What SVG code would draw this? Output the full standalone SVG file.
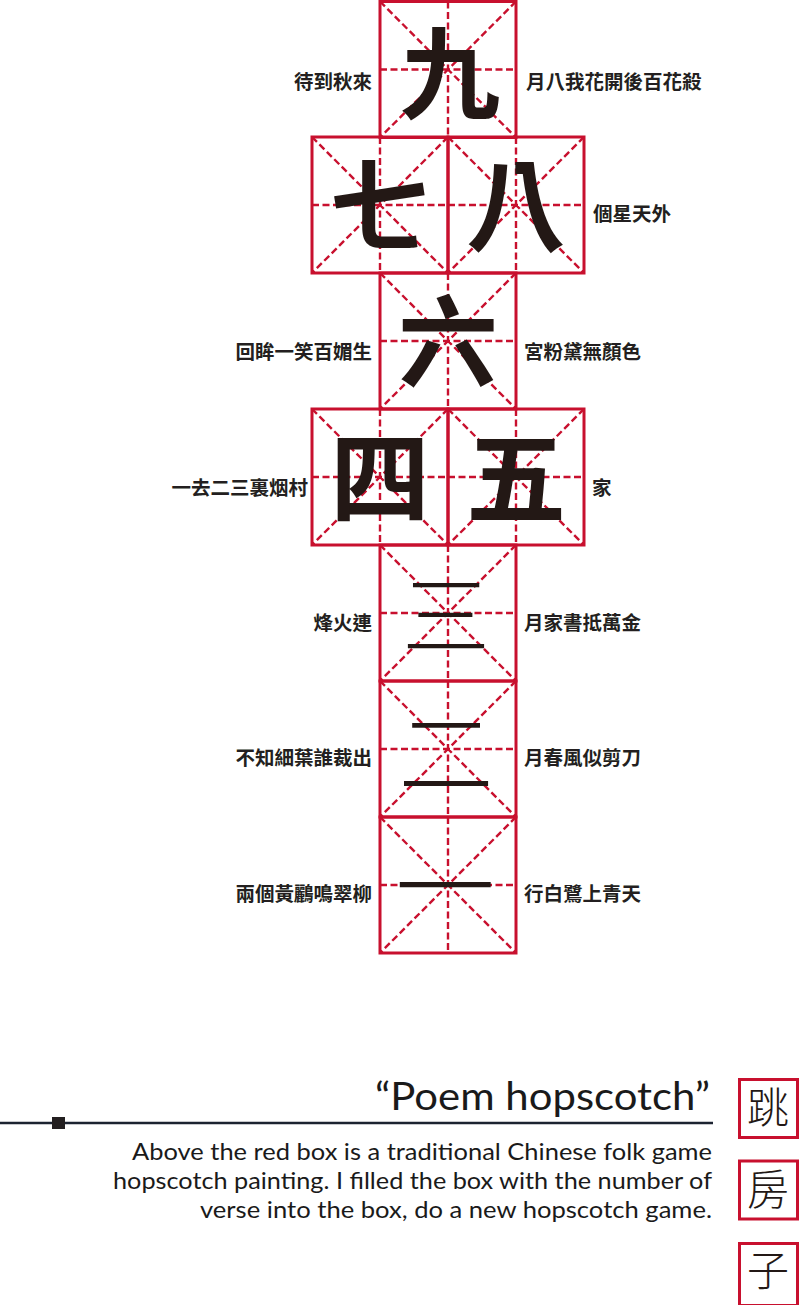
<svg xmlns="http://www.w3.org/2000/svg" xmlns:xlink="http://www.w3.org/1999/xlink" width="800" height="1305" viewBox="0 0 800 1305">
<style>
.dash{fill:none;stroke:#c8102e;stroke-width:2.4;stroke-dasharray:7 3.5}
.solid{fill:none;stroke:#c8102e;stroke-width:3}
.big{font-family:"Noto Sans CJK TC","Noto Sans CJK SC",sans-serif;font-weight:700;font-size:100px;fill:#231815;text-anchor:middle}
.thin{font-family:"Noto Sans CJK TC","Noto Sans CJK SC",sans-serif;font-weight:300;fill:#231815;text-anchor:middle}
.lab{font-family:"Noto Sans CJK TC","Noto Sans CJK SC",sans-serif;font-weight:700;font-size:19.5px;fill:#231f20}
.l{text-anchor:end}
.title{font-family:Lato,"Open Sans",sans-serif;font-weight:400;fill:#1a1a1a;text-anchor:end}
.tag{fill:none;stroke:#c8102e;stroke-width:3}
.kai{font-family:"Noto Sans CJK TC","Noto Sans CJK SC",sans-serif;font-weight:300;font-size:42px;fill:#231815;text-anchor:middle}
</style>
<defs>
<g id="cell">
<path class="dash" d="M0,0 L136,136 M136,0 L0,136 M68,0 L68,136 M0,68 L136,68"/>
<rect class="solid" x="0" y="0" width="136" height="136"/>
</g>
</defs>
<rect width="800" height="1305" fill="#ffffff"/>
<g id="grid">
<g id="box9"><use xlink:href="#cell" x="380" y="1.5"/><text class="big" x="450" y="111" font-size="94">九</text></g>
<g id="box7"><use xlink:href="#cell" x="312" y="137"/><text class="big" x="380" y="243">七</text></g>
<g id="box8"><use xlink:href="#cell" x="448" y="137"/><text class="big" x="516" y="243">八</text></g>
<g id="box6"><use xlink:href="#cell" x="380" y="273"/><text class="big" x="448" y="379">六</text></g>
<g id="box4"><use xlink:href="#cell" x="312" y="409"/><text class="big" x="380" y="515">四</text></g>
<g id="box5"><use xlink:href="#cell" x="448" y="409"/><text class="big" x="516" y="515">五</text></g>
<g id="box3"><use xlink:href="#cell" x="380" y="545"/><text class="thin" x="446" y="648" font-size="88">三</text></g>
<g id="box2"><use xlink:href="#cell" x="380" y="681"/><text class="thin" x="446" y="789" font-size="95">二</text></g>
<g id="box1"><use xlink:href="#cell" x="380" y="817"/><text class="thin" x="445" y="924" font-size="100">一</text></g>
</g>
<g id="labels">
<text class="lab l" x="372" y="89">待到秋來</text>
<text class="lab" x="526" y="89">月八我花開後百花殺</text>
<text class="lab" x="593" y="221">個星天外</text>
<text class="lab l" x="372" y="359">回眸一笑百媚生</text>
<text class="lab" x="524" y="359">宮粉黛無顏色</text>
<text class="lab l" x="308" y="495">一去二三裏烟村</text>
<text class="lab" x="592" y="495">家</text>
<text class="lab l" x="372" y="630">烽火連</text>
<text class="lab" x="524" y="630">月家書抵萬金</text>
<text class="lab l" x="372" y="765">不知細葉誰裁出</text>
<text class="lab" x="524" y="765">月春風似剪刀</text>
<text class="lab l" x="372" y="901">兩個黃鸝鳴翠柳</text>
<text class="lab" x="524" y="901">行白鷺上青天</text>
</g>
<g id="caption">
<text class="title" x="710" y="1110" font-size="38" textLength="335" lengthAdjust="spacingAndGlyphs">“Poem hopscotch”</text>
<line x1="0" y1="1123" x2="713" y2="1123" stroke="#1c2331" stroke-width="2.4"/>
<rect x="52" y="1117" width="13" height="12" fill="#231f20"/>
<text class="title" x="712" y="1160" font-size="24" textLength="580" lengthAdjust="spacingAndGlyphs">Above the red box is a traditional Chinese folk game</text>
<text class="title" x="712" y="1189" font-size="24" textLength="599" lengthAdjust="spacingAndGlyphs">hopscotch painting. I filled the box with the number of</text>
<text class="title" x="712" y="1218" font-size="24" textLength="512" lengthAdjust="spacingAndGlyphs">verse into the box, do a new hopscotch game.</text>
</g>
<g id="tags">
<g id="tag1"><rect class="tag" x="739.5" y="1079.5" width="58" height="58"/><text class="kai" x="768" y="1123">跳</text></g>
<g id="tag2"><rect class="tag" x="739.5" y="1161" width="58" height="58"/><text class="kai" x="768" y="1205">房</text></g>
<g id="tag3"><rect class="tag" x="739.5" y="1243.5" width="58" height="62"/><text class="kai" x="768" y="1286">子</text></g>
</g>
</svg>
